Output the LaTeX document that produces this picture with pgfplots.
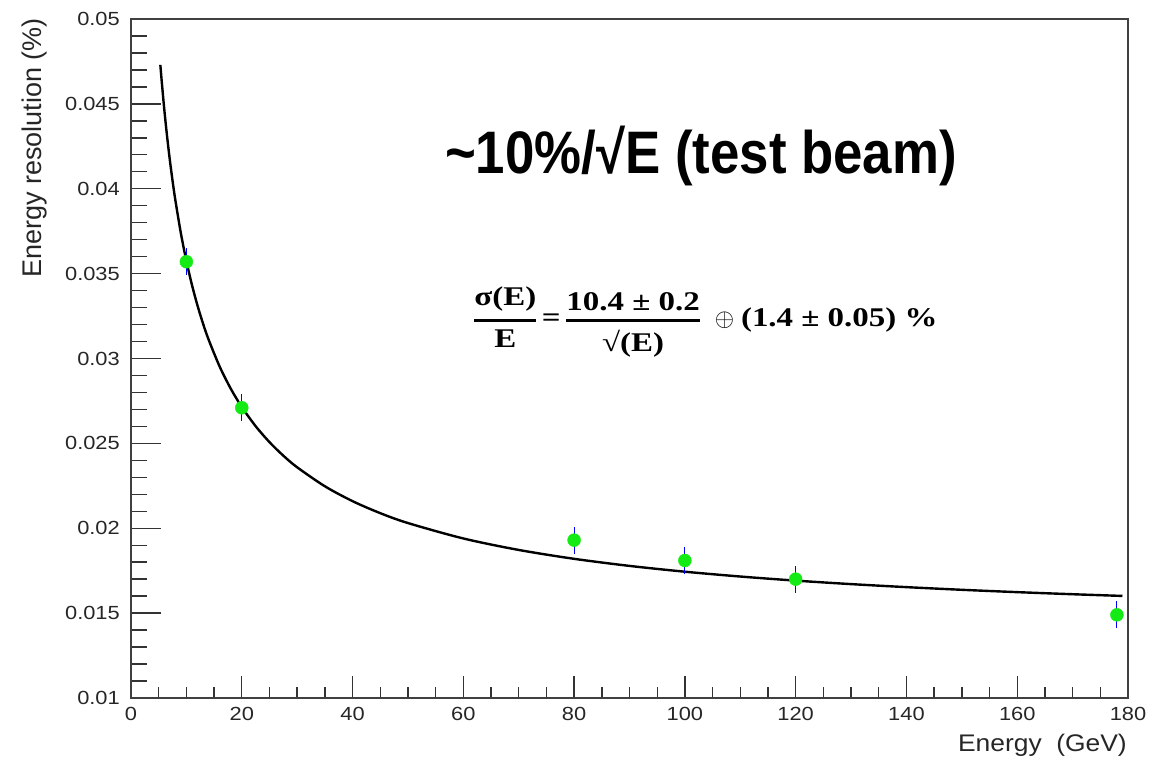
\documentclass[border=0pt]{standalone}
\usepackage{fontspec}
\setmainfont{Liberation Sans}
\newfontfamily\axfont[FakeStretch=1.15]{Liberation Sans}
\newfontfamily\xlabfont[FakeStretch=1.1]{Liberation Sans}
\newfontfamily\ylabfont{Liberation Sans}
\newfontfamily\titlefont[FakeStretch=0.88]{Liberation Sans}
\newfontfamily\fmfont[FakeStretch=1.22]{Liberation Serif}
\usepackage{amsmath}
\usepackage{pgfplots}
\usepackage{pgfplotstable}
\pgfplotsset{compat=1.18}
\definecolor{ptgreen}{RGB}{20,235,20}

\pgfplotstableread{
E res err
10 0.0357 0.0008
20 0.0271 0.0008
80 0.0193 0.0008
100 0.0181 0.0008
120 0.0170 0.0008
178 0.0149 0.0008
}\datatable

\pgfplotstableread{
E f
5.3 0.047295
5.5 0.046503
6 0.044707
6.5 0.043128
7 0.041726
7.5 0.040474
8 0.039345
9 0.037387
10 0.035743
11 0.034341
12 0.033126
13 0.032062
14 0.031122
16 0.029530
18 0.028229
20 0.027144
22.5 0.026014
25 0.025073
27.5 0.024276
30 0.023591
35 0.022473
40 0.021596
45 0.020889
50 0.020306
60 0.019398
70 0.018722
80 0.018199
90 0.017782
100 0.017440
110 0.017156
120 0.016915
130 0.016709
140 0.016531
150 0.016374
160 0.016236
170 0.016113
179 0.016013
}\fittable

\begin{document}
\begin{tikzpicture}
\begin{axis}[
  at={(0,0)}, anchor=south west,
  scale only axis, width=997pt, height=679pt,
  xmin=0, xmax=180, ymin=0.01, ymax=0.05,
  axis line style={black!75, line width=1.5pt},
  xtick=\empty,
  ytick={0.01,0.015,0.02,0.025,0.03,0.035,0.04,0.045,0.05},
  yticklabels={0.01,0.015,0.02,0.025,0.03,0.035,0.04,0.045,0.05},
  minor y tick num=4,
  tick align=inside, ytick pos=left,
  major tick length=30pt, minor tick length=16pt,
  every tick/.style={black!80, line width=1.4pt},
  /pgf/number format/assume math mode=true,
  yticklabel style={font=\axfont\fontsize{19}{20}\selectfont, text=black!85, inner sep=0pt, xshift=-11pt},
]
\addplot[black, line width=2.4pt, smooth, mark=none] table[x=E, y=f] {\fittable};
\addplot[only marks, mark=*, mark size=6.5pt, mark options={draw=ptgreen, fill=ptgreen},
  error bars/.cd, y dir=both, y explicit, error mark=none,
  error bar style={blue, line width=0.9pt}]
  table[x=E, y=res, y error=err] {\datatable};
\end{axis}
\begin{axis}[
  at={(0,0)}, anchor=south west,
  scale only axis, width=997pt, height=679pt,
  xmin=0, xmax=180, ymin=0.01, ymax=0.05,
  axis line style={black!75, line width=1.5pt},
  ytick=\empty,
  xtick={0,20,40,60,80,100,120,140,160,180},
  xticklabels={0,20,40,60,80,100,120,140,160,180},
  minor x tick num=3,
  tick align=inside, xtick pos=bottom,
  major tick length=22pt, minor tick length=11pt,
  every tick/.style={black!80, line width=1.4pt},
  /pgf/number format/assume math mode=true,
  xticklabel style={font=\axfont\fontsize{19}{20}\selectfont, text=black!85, inner sep=0pt, yshift=-9pt},
]
\end{axis}
% axis titles
\node[font=\xlabfont\fontsize{24}{26}\selectfont, text=black!85, inner sep=0pt, anchor=base east] at (996pt,-54pt) {Energy\ \ (GeV)};
\node[font=\ylabfont\fontsize{27}{29}\selectfont, text=black!85, inner sep=0pt, rotate=90, anchor=base east] at (-89pt,680pt) {Energy resolution (\%)};
% big title
\node[font=\titlefont\bfseries\fontsize{60}{66}\selectfont, inner sep=0pt, anchor=base] at (570pt,524pt) {\textasciitilde10\%/√E (test beam)};
% formula
\node[font=\fmfont\bfseries\fontsize{27}{32}\selectfont, inner sep=0pt, anchor=west] at (342pt,376pt)
 {$\genfrac{}{}{2.7pt}{0}{\mbox{σ(E)}}{\mbox{E}}\mbox{\,=\,}\genfrac{}{}{2.7pt}{0}{\mbox{10.4 ± 0.2}}{\mbox{√(E)}}\;\;\oplus\;$(1.4 ± 0.05) \%};
\pgfresetboundingbox
\path (-131pt,-59pt) rectangle (1033pt,698pt);
\end{tikzpicture}
\end{document}
